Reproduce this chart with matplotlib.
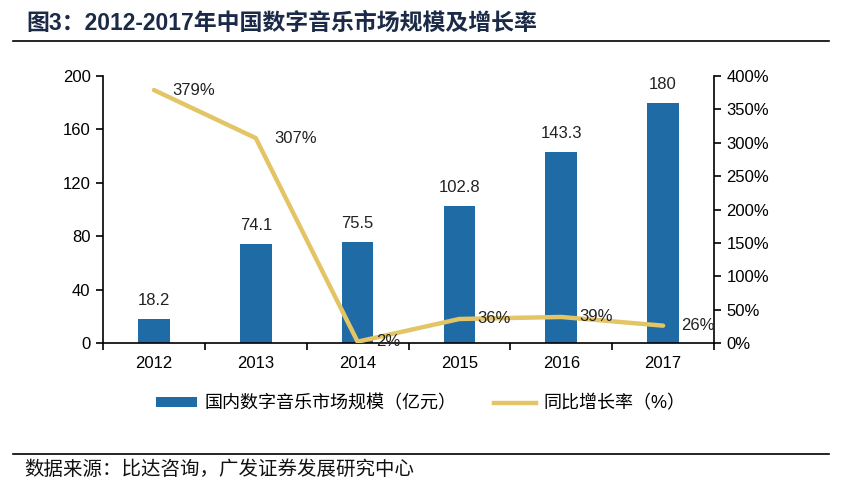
import matplotlib
matplotlib.use("Agg")
import matplotlib.pyplot as plt
from matplotlib.patches import Patch
from matplotlib.lines import Line2D
from matplotlib.ticker import FuncFormatter, FixedLocator

years = ["2012", "2013", "2014", "2015", "2016", "2017"]
market_size = [18.2, 74.1, 75.5, 102.8, 143.3, 180]
growth_pct = [379, 307, 2, 36, 39, 26]

bar_color = "#1f6ba5"
line_color = "#e3c566"
cjk = ["Liberation Sans", "Noto Sans CJK SC"]

plt.rcParams["font.family"] = cjk

fig = plt.figure(figsize=(8.41, 4.91), dpi=100)
ax = fig.add_axes([0.1225, 0.3014, 0.7265, 0.5438])
ax2 = ax.twinx()

x = list(range(len(years)))
ax.bar(x, market_size, width=0.31, color=bar_color)
for i, v in enumerate(market_size):
    ax.annotate(f"{v:g}", xy=(i, v), xytext=(0, 8), textcoords="offset points",
                ha="center", va="bottom", fontsize=12, color="#222222")

growth = [g / 100 for g in growth_pct]
ax2.plot(x, growth, color=line_color, lw=3.2, solid_capstyle="round", zorder=3)
for i, g in enumerate(growth_pct):
    ax2.annotate(f"{g}%", xy=(i, g / 100), xytext=(13, 0), textcoords="offset points",
                 ha="left", va="center", fontsize=12, color="#222222")

ax.set_xlim(-0.5, 5.5)
ax.set_ylim(0, 200)
ax.set_yticks([0, 40, 80, 120, 160, 200])
ax2.set_ylim(0, 4)
ax2.set_yticks([0, 0.5, 1, 1.5, 2, 2.5, 3, 3.5, 4])
ax2.yaxis.set_major_formatter(FuncFormatter(lambda v, p: f"{v * 100:.0f}%"))

ax.set_xticks(x)
ax.set_xticklabels(years)
ax.xaxis.set_minor_locator(FixedLocator([i - 0.5 for i in range(len(years) + 1)]))
ax.tick_params(axis="x", which="major", length=0, pad=9, labelsize=12)
ax.tick_params(axis="x", which="minor", length=5, width=1.2, direction="out")
ax.tick_params(axis="y", length=5, width=1.2, direction="out", labelsize=12, pad=4)
ax2.tick_params(axis="y", length=5, width=1.2, direction="out", labelsize=12, pad=4)

for a in (ax, ax2):
    a.spines["top"].set_visible(False)
    for s in ("left", "right", "bottom"):
        a.spines[s].set_linewidth(1.2)
ax.spines["right"].set_visible(False)
ax2.spines["left"].set_visible(False)
ax2.spines["bottom"].set_visible(False)

handles = [Patch(facecolor=bar_color, edgecolor="none"),
           Line2D([0], [0], color=line_color, lw=3.2)]
labels = ["国内数字音乐市场规模（亿元）", "同比增长率（%）"]
fig.legend(handles, labels, loc="center", bbox_to_anchor=(0.5, 0.177), ncol=2,
           frameon=False, handlelength=2.3, handleheight=0.45,
           handletextpad=0.4, columnspacing=2.1, prop={"family": cjk, "size": 13})

fig.text(0.031, 1 - 23 / 491, "图3：2012-2017年中国数字音乐市场规模及增长率",
         fontsize=16.5, fontweight="bold", color="#1b2a47", ha="left", va="center",
         family=cjk)
fig.add_artist(Line2D([13 / 841, 829 / 841], [1 - 41 / 491, 1 - 41 / 491],
                      color="black", lw=1.2))
fig.add_artist(Line2D([13 / 841, 829 / 841], [1 - 454 / 491, 1 - 454 / 491],
                      color="black", lw=1.2))
fig.text(0.029, 1 - 470 / 491, "数据来源：比达咨询，广发证券发展研究中心",
         fontsize=14, color="#111111", ha="left", va="center", family=cjk)

fig.savefig("out.png", dpi=100)
